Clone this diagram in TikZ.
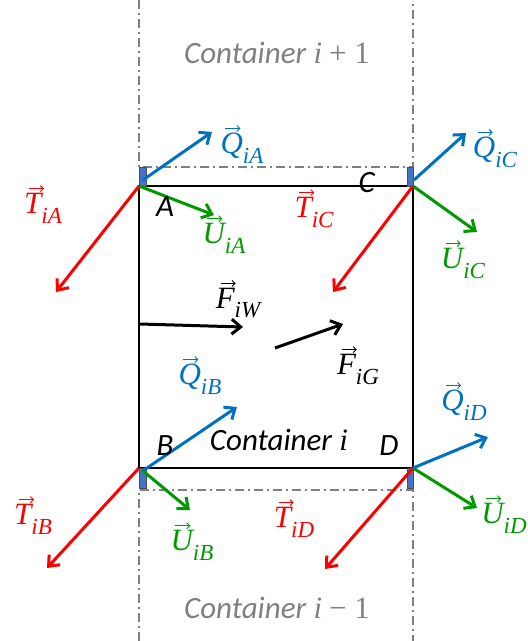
\documentclass[tikz,border=0pt]{standalone}
\usepackage{fontspec}
\setmainfont{Carlito}
\newfontfamily\mathlike{Liberation Serif}
\usepackage{xcolor}
\usetikzlibrary{arrows.meta}
\definecolor{qblue}{RGB}{0,112,192}
\definecolor{ugreen}{RGB}{0,153,0}
\definecolor{lbl}{RGB}{128,128,128}
\definecolor{pad}{RGB}{68,114,196}
% vector name with index, and its small arrow on top
\newcommand\vlab[2]{{\mathlike\itshape #1\raisebox{-0.32em}{\fontsize{23}{23}\selectfont #2}}}
\newcommand\vecmark[2]{\draw[#2,line width=0.9pt,-{Straight Barb[length=3pt,width=6pt]}] ([shift={(5,-4)}]#1.north west) -- ++(15,0);}
\newcommand\mi[1]{{\mathlike\itshape #1}}

\begin{document}
\begin{tikzpicture}[x=1pt,y=-1pt,
    vec/.style={line width=3pt,-{Straight Barb[length=9pt,width=15pt,line width=3pt]}},
    frc/.style={vec,black},
    grid/.style={lbl,line width=1.5pt,dash pattern=on 9pt off 4pt on 2pt off 4pt},
    tag/.style={font=\fontsize{31}{33}\selectfont,inner sep=0pt},
    padbox/.style={draw=black!70,fill=pad,line width=1pt}]
    \useasboundingbox (0,0) rectangle (528,641);
    % corners of container i
    \coordinate (A) at (139,186);
    \coordinate (B) at (139,468);
    \coordinate (C) at (413,186);
    \coordinate (D) at (413,468);
    % neighbouring containers
    \draw[grid] (139,0)--(139,167)--(413,167)--(413,0);
    \draw[grid] (139,641)--(139,490)--(413,490)--(413,641);
    \draw[line width=2pt] (A) rectangle (D);
    \draw[padbox] (139,167) rectangle (146,186);
    \draw[padbox] (407,167) rectangle (413,186);
    \draw[padbox] (139,468) rectangle (146,488);
    \draw[padbox] (407,468) rectangle (413,488);
    % tips
    \coordinate (qA) at (212,132);
    \coordinate (uA) at (214,215);
    \coordinate (tA) at (56,292);
    \coordinate (qC) at (466,133);
    \coordinate (uC) at (477,232);
    \coordinate (tC) at (333,292);
    \coordinate (qB) at (237,407);
    \coordinate (uB) at (190,510);
    \coordinate (tB) at (47,568);
    \coordinate (qD) at (488,437);
    \coordinate (uD) at (477,508);
    \coordinate (tD) at (325,569);
    \draw[vec,red] (A)--(tA);
    \draw[vec,ugreen] (A)--(uA);
    \draw[vec,qblue] ([shift={(4,-6)}]A)--(qA);
    \draw[vec,red] (C)--(tC);
    \draw[vec,ugreen] (C)--(uC);
    \draw[vec,qblue] ([shift={(1,-6)}]C)--(qC);
    \draw[vec,red] (B)--(tB);
    \draw[vec,ugreen] ([shift={(3,2)}]B)--(uB);
    \draw[vec,qblue] ([shift={(5,2)}]B)--(qB);
    \draw[vec,red] (D)--(tD);
    \draw[vec,ugreen] (D)--(uD);
    \draw[vec,qblue] (D)--(qD);
    % loads on the container
    \coordinate (w0) at (140,324);
    \coordinate (w1) at (243,327);
    \coordinate (g0) at (275,348);
    \coordinate (g1) at (343,324);
    \draw[frc] (w0)--(w1);
    \draw[frc] (g0)--(g1);
    % labels
    \node[tag,lbl] (up) at (277,53) {\textit{Container} \mi{i} {\mathlike+ 1}};
    \node[tag,lbl] (down) at (277,608) {\textit{Container} \mi{i} {\mathlike− 1}};
    \node[tag] (mid) at (279,440) {\textit{Container} \mi{i}};
    \node[tag] (la) at (165,207) {\textit{A}};
    \node[tag] (lb) at (165,446) {\textit{B}};
    \node[tag] (lc) at (367,183) {\textit{C}};
    \node[tag] (ld) at (389,446) {\textit{D}};
    \node[tag,qblue] (nqA) at (242,148) {\vlab{Q}{iA}};
    \node[tag,ugreen] (nuA) at (224,238) {\vlab{U}{iA}};
    \node[tag,red] (ntA) at (43,208) {\vlab{T}{iA}};
    \node[tag,qblue] (nqC) at (495,152) {\vlab{Q}{iC}};
    \node[tag,ugreen] (nuC) at (463,263) {\vlab{U}{iC}};
    \node[tag,red] (ntC) at (314,212) {\vlab{T}{iC}};
    \node[tag,qblue] (nqB) at (200,379) {\vlab{Q}{iB}};
    \node[tag,ugreen] (nuB) at (192,545) {\vlab{U}{iB}};
    \node[tag,red] (ntB) at (33,519) {\vlab{T}{iB}};
    \node[tag,qblue] (nqD) at (464,405) {\vlab{Q}{iD}};
    \node[tag,ugreen] (nuD) at (504,518) {\vlab{U}{iD}};
    \node[tag,red] (ntD) at (294,522) {\vlab{T}{iD}};
    \node[tag] (nw) at (238,303) {\vlab{F}{iW}};
    \node[tag] (ng) at (358,369) {\vlab{F}{iG}};
    % arrows over the vector names
    \vecmark{nqA}{qblue} \vecmark{nqB}{qblue} \vecmark{nqC}{qblue} \vecmark{nqD}{qblue}
    \vecmark{nuA}{ugreen} \vecmark{nuB}{ugreen} \vecmark{nuC}{ugreen} \vecmark{nuD}{ugreen}
    \vecmark{ntA}{red} \vecmark{ntB}{red} \vecmark{ntC}{red} \vecmark{ntD}{red}
    \vecmark{nw}{black} \vecmark{ng}{black}
\end{tikzpicture}
\end{document}
